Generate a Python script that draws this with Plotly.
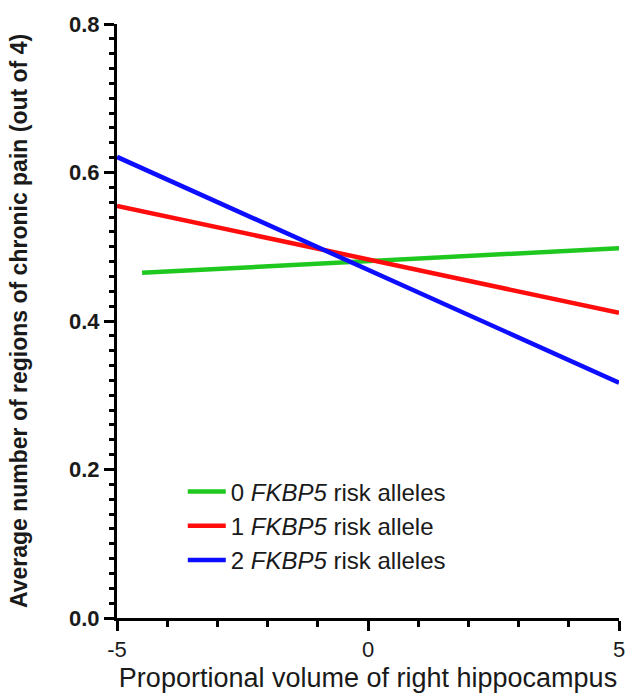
import plotly.graph_objects as go

# Data
series_names = ["0 <i>FKBP5</i> risk alleles", "1 <i>FKBP5</i> risk allele", "2 <i>FKBP5</i> risk alleles"]
green_x = [-4.5, 5.0]
green_y = [0.465, 0.498]
red_x = [-5.0, 5.0]
red_y = [0.555, 0.411]
blue_x = [-5.0, 5.0]
blue_y = [0.621, 0.317]
colors = ["#1ec81e", "#ff0d0d", "#0d0dff"]

x_tickvals = [-5, 0, 5]
y_tickvals = [0.0, 0.2, 0.4, 0.6, 0.8]
y_ticktext = ["0.0", "0.2", "0.4", "0.6", "0.8"]

FONT = "Liberation Sans, Arial, sans-serif"
TXT = "#1a1a1a"

fig = go.Figure()
for name, xs, ys, c in zip(series_names, [green_x, red_x, blue_x], [green_y, red_y, blue_y], colors):
    fig.add_trace(go.Scatter(x=xs, y=ys, mode="lines", name=name,
                             line=dict(color=c, width=4.5)))

fig.update_layout(
    width=625, height=693,
    margin=dict(l=117, r=6, t=24, b=75, autoexpand=False),
    plot_bgcolor="white", paper_bgcolor="white",
    font=dict(family=FONT, color=TXT),
    showlegend=True,
    legend=dict(x=0.131, y=0.155, xanchor="left", yanchor="middle",
                font=dict(family=FONT, size=24, color=TXT),
                bgcolor="rgba(0,0,0,0)", itemwidth=38, tracegroupgap=0),
)
fig.update_xaxes(
    range=[-5, 5], tickvals=x_tickvals, ticktext=[str(v) for v in x_tickvals],
    automargin=False,
    showgrid=False, zeroline=False, showline=True, linecolor="black", linewidth=3,
    ticks="outside", ticklen=10, tickwidth=3, tickcolor="black",
    tickfont=dict(family=FONT, size=22, color=TXT), ticklabeloverflow="allow",
    minor=dict(dtick=1, ticks="outside", ticklen=6, tickwidth=3, tickcolor="black", showgrid=False),
    title=dict(text="Proportional volume of right hippocampus", font=dict(family=FONT, size=27, color=TXT), standoff=7),
)
fig.update_yaxes(
    range=[0, 0.8], tickvals=y_tickvals, ticktext=["<b>%s</b>" % t for t in y_ticktext],
    automargin=False,
    showgrid=False, zeroline=False, showline=True, linecolor="black", linewidth=3,
    ticks="outside", ticklen=10, tickwidth=3, tickcolor="black",
    tickfont=dict(family=FONT, size=22, color=TXT),
    minor=dict(dtick=0.02, ticks="outside", ticklen=5, tickwidth=3, tickcolor="black", showgrid=False),
    title=dict(text="<b>Average number of regions of chronic pain (out of 4)</b>",
               font=dict(family=FONT, size=23, color=TXT), standoff=35),
)

# remove the default 8px page margin so the figure fills the window exactly
fig.write_html("out.html", config={"displayModeBar": False},
               post_script="document.body.style.margin='0px';document.body.style.overflow='hidden';")
